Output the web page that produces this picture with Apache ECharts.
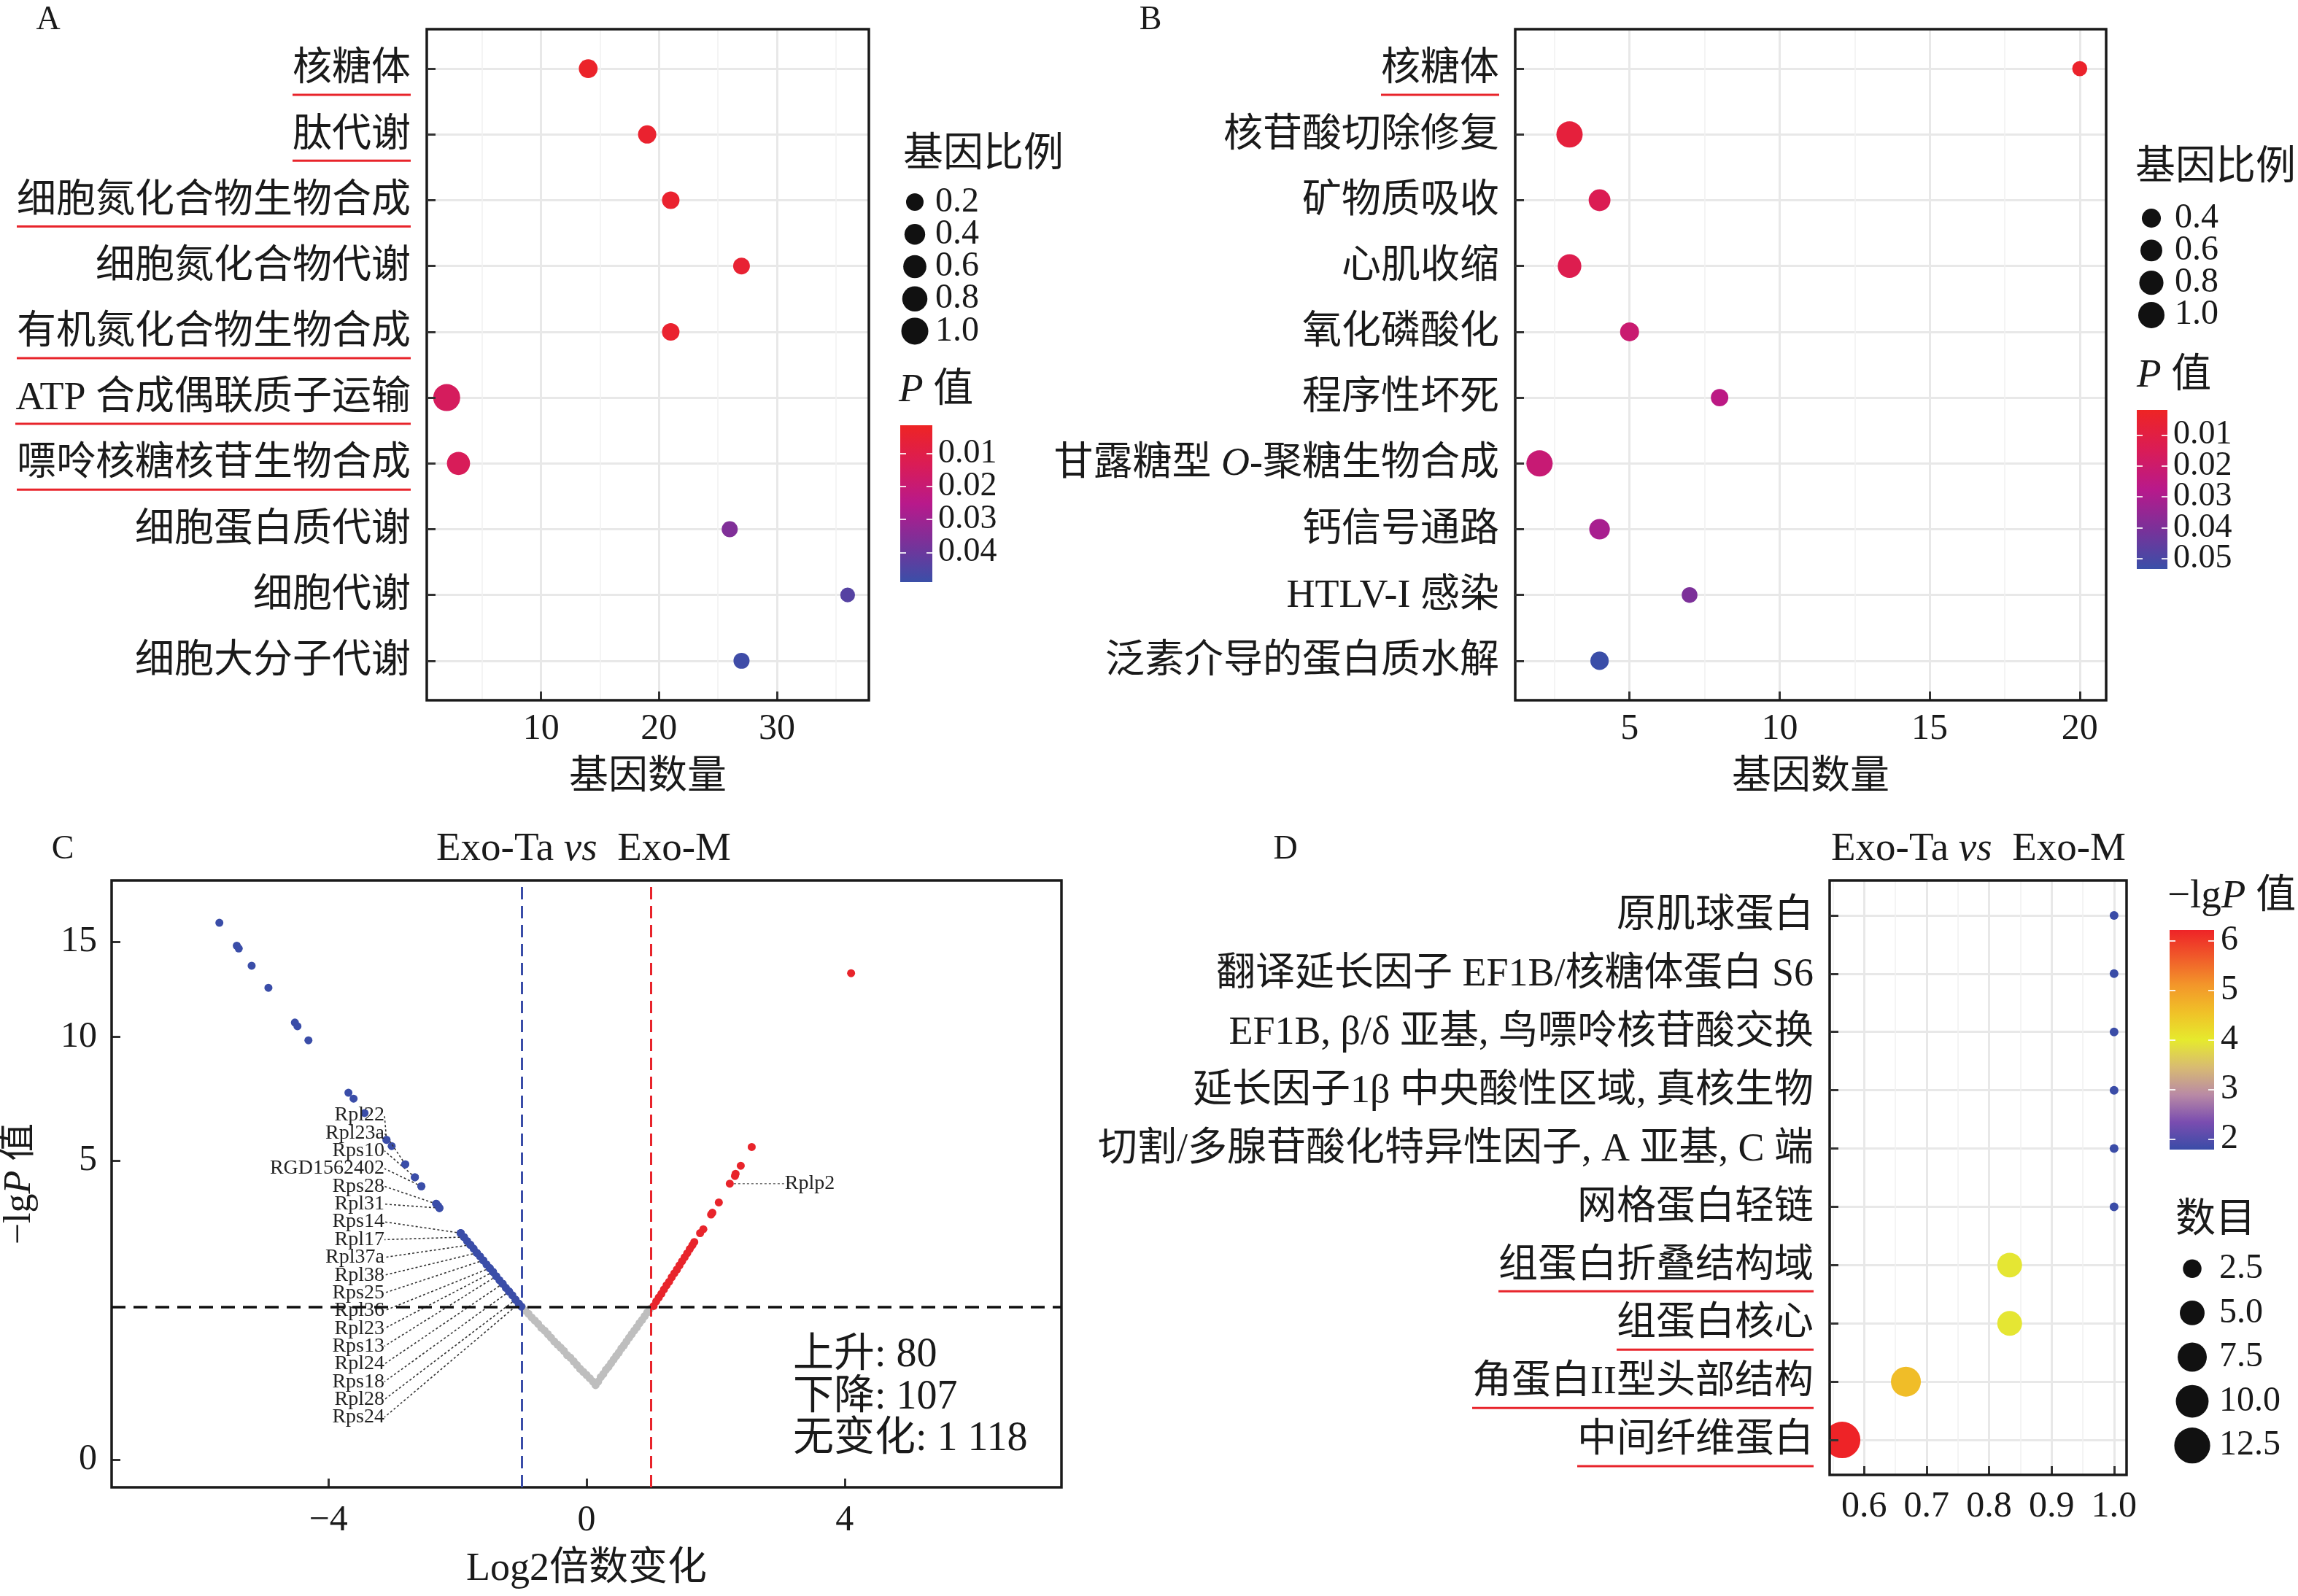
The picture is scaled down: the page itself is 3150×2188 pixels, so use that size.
<!DOCTYPE html>
<html><head><meta charset="utf-8">
<script src="https://cdn.jsdelivr.net/npm/echarts/dist/echarts.min.js"></script>
<style>html,body{margin:0;padding:0;background:#fff}#c{width:3150px;height:2188px}</style>
</head><body><div id="c"></div>
<script>
// ================= DATA =================
// Panel A (GO enrichment)
const catsA = ['核糖体','肽代谢','细胞氮化合物生物合成','细胞氮化合物代谢','有机氮化合物生物合成','ATP 合成偶联质子运输','嘌呤核糖核苷生物合成','细胞蛋白质代谢','细胞代谢','细胞大分子代谢'];
const countA = [14,19,21,27,21,2,3,26,36,27];
const ratioA = [0.27,0.24,0.2,0.16,0.2,1.0,0.6,0.13,0.08,0.13];
const pA = [0.003,0.004,0.004,0.005,0.004,0.015,0.014,0.036,0.044,0.048];
const underlineA = [1,1,1,0,1,1,1,0,0,0];
const xTicksA = [10,20,30];
const xMinorA = [5,15,25,35];
const sizeBreaksA = [0.2,0.4,0.6,0.8,1.0];
const pBreaksA = [0.01,0.02,0.03,0.04];
const pLimitsA = [0.0015,0.049];

// Panel B (KEGG enrichment)
const catsB = ['核糖体','核苷酸切除修复','矿物质吸收','心肌收缩','氧化磷酸化','程序性坏死','甘露糖型 O-聚糖生物合成','钙信号通路','HTLV-I 感染','泛素介导的蛋白质水解'];
const countB = [20,3,4,3,5,8,2,4,7,4];
const ratioB = [0.19,1.0,0.6,0.75,0.4,0.31,1.0,0.51,0.22,0.36];
const pB = [0.004,0.008,0.014,0.013,0.021,0.026,0.022,0.031,0.040,0.053];
const underlineB = [1,0,0,0,0,0,0,0,0,0];
const xTicksB = [5,10,15,20];
const xMinorB = [2.5,7.5,12.5,17.5];
const sizeBreaksB = [0.4,0.6,0.8,1.0];
const pBreaksB = [0.01,0.02,0.03,0.04,0.05];
const pLimitsB = [0.0019,0.0533];

// Panel C (volcano)
const grayX = [-1.00,-0.95,-0.90,-0.85,-0.80,-0.75,-0.70,-0.65,-0.60,-0.55,-0.50,-0.45,-0.40,-0.35,-0.30,-0.25,-0.20,-0.15,-0.10,-0.05,0.00,0.05,0.10,0.14,0.18,0.22,0.26,0.30,0.34,0.38,0.42,0.46,0.50,0.54,0.58,0.62,0.66,0.70,0.74,0.78,0.82,0.86,0.90,0.94,0.98];
const grayY = [1.30,1.24,1.19,1.13,1.08,1.03,0.97,0.93,0.88,0.83,0.78,0.74,0.70,0.66,0.61,0.58,0.54,0.50,0.46,0.43,0.40,0.37,0.34,0.31,0.34,0.38,0.41,0.45,0.48,0.52,0.56,0.60,0.64,0.69,0.73,0.78,0.83,0.88,0.93,0.98,1.04,1.09,1.15,1.21,1.27];
const downX = [-5.69,-5.42,-5.39,-5.19,-4.93,-4.52,-4.48,-4.31,-3.69,-3.61,-3.44,-3.10,-3.02,-2.81,-2.66,-2.56,-2.33,-2.30,-2.28,-1.95,-1.90,-1.85,-1.80,-1.75,-1.70,-1.65,-1.60,-1.55,-1.50,-1.45,-1.40,-1.35,-1.30,-1.25,-1.20,-1.15,-1.10,-1.05,-1.01];
const downY = [16.13,14.78,14.62,13.65,12.46,10.69,10.51,9.84,7.53,7.29,6.72,5.72,5.50,4.88,4.46,4.18,3.66,3.60,3.54,2.87,2.77,2.67,2.58,2.49,2.39,2.31,2.22,2.13,2.05,1.97,1.88,1.80,1.73,1.65,1.58,1.51,1.43,1.36,1.31];
const upX = [4.10,2.56,2.39,2.31,2.30,2.05,1.95,1.93,1.81,1.76,1.67,1.64,1.60,1.56,1.52,1.48,1.44,1.40,1.36,1.32,1.28,1.24,1.20,1.16,1.12,1.08,1.04];
const upY = [13.24,5.47,4.83,4.57,4.50,3.70,3.41,3.36,2.97,2.87,2.65,2.57,2.48,2.38,2.29,2.20,2.11,2.02,1.94,1.86,1.77,1.70,1.62,1.54,1.47,1.40,1.32];
const geneNames = ['Rpl22','Rpl23a','Rps10','RGD1562402','Rps28','Rpl31','Rps14','Rpl17','Rpl37a','Rpl38','Rps25','Rpl36','Rpl23','Rps13','Rpl24','Rps18','Rpl28','Rps24'];
const geneX = [-3.10,-2.81,-2.66,-2.56,-2.33,-2.28,-1.95,-1.90,-1.80,-1.70,-1.60,-1.50,-1.45,-1.40,-1.30,-1.20,-1.10,-1.05];
const geneY = [5.72,4.88,4.46,4.18,3.66,3.54,2.87,2.77,2.58,2.39,2.22,2.05,1.97,1.88,1.73,1.58,1.43,1.36];
const upGeneNames = ['Rplp2'];
const upGeneX = [2.22];
const upGeneY = [4.26];
const xTicksC = [-4,0,4];
const yTicksC = [0,5,10,15];
const fcCut = 1, pCut = 0.05;
const nUp = 80, nDown = 107, nNone = '1 118';

// Panel D (domain enrichment)
const catsD = ['原肌球蛋白','翻译延长因子 EF1B/核糖体蛋白 S6','EF1B, β/δ 亚基, 鸟嘌呤核苷酸交换','延长因子1β 中央酸性区域, 真核生物','切割/多腺苷酸化特异性因子, A 亚基, C 端','网格蛋白轻链','组蛋白折叠结构域','组蛋白核心','角蛋白II型头部结构','中间纤维蛋白'];
const ratioD = [1,1,1,1,1,1,0.833,0.833,0.667,0.565];
const countD = [1,1,1,1,1,1,5,5,8,13];
const lgpD = [1.79,1.79,1.79,1.79,1.79,1.79,3.95,3.95,4.6,6.21];
const underlineD = [0,0,0,0,0,0,1,1,1,1];
const xTicksD = [0.6,0.7,0.8,0.9,1.0];
const xMinorD = [0.55,0.65,0.75,0.85,0.95];
const sizeBreaksD = [2.5,5.0,7.5,10.0,12.5];
const lgpBreaksD = [2,3,4,5,6];
const lgpLimitsD = [1.79,6.21];

// ================= STYLE =================
const FONT = "'Liberation Serif','Noto Sans CJK SC',serif";
const TXT = '#1a1a1a';
const RED = '#E8242B', BLUE = '#3A4DA8', GRAY = '#BEBEBE';
const GMAJ = '#E8E8E8', GMIN = '#F2F2F2';
const PAL_AB = ['#EE2424','#DA1C56','#B8198B','#7A3199','#3A4FA8'];
const PAL_D = ['#3A4CA7','#7A4DB0','#B98AA5','#D8BB72','#E6EA2D','#F0C128','#F3962A','#F05B2A','#EE2327'];
const sizeA = r => 13.5 + 23.5 * Math.sqrt(r);
const sizeB = r => 8.8 + 27.2 * Math.sqrt(r);
const sizeD = c => 12 + 38 * Math.sqrt(Math.max(0, (c - 1) / 12));

const mctx = document.createElement('canvas').getContext('2d');
function textW(s, fs) { mctx.font = fs + 'px ' + FONT; return mctx.measureText(s).width; }
const evens = a => a.filter((_, i) => i % 2 === 0);
const odds = a => a.filter((_, i) => i % 2 === 1);

function catLabel(cats, ul, fs) {
  const rich = {
    s: {fontSize: 8, lineHeight: 14},
    t: {fontSize: fs, lineHeight: 58, fontFamily: FONT, color: TXT},
    ti: {fontSize: fs, lineHeight: 58, fontFamily: FONT, color: TXT, fontStyle: 'italic'}
  };
  cats.forEach((c, i) => {
    rich['u' + i] = {fontSize: 4, width: Math.round(textW(c, fs)), height: 3, lineHeight: 10,
      backgroundColor: ul[i] ? RED : 'transparent'};
  });
  const formatter = v => {
    const i = Math.round(v);
    if (i < 0 || i >= cats.length) return '';
    return '{s| }\n{t|' + cats[i].replace(' O-', ' }{ti|O}{t|-') + '}\n{u' + i + '| }';
  };
  return {rich, formatter};
}

function catYAxis(gi, cats, ul) {
  const lab = catLabel(cats, ul, 54);
  const idx = cats.map((_, i) => i);
  return {
    type: 'value', gridIndex: gi, min: -0.6, max: cats.length - 0.4, inverse: true,
    axisLine: {show: false, onZero: false}, z: 4,
    axisTick: {show: true, inside: true, length: 12, customValues: idx, lineStyle: {color: '#333', width: 3}},
    axisLabel: {customValues: idx, formatter: lab.formatter, rich: lab.rich, margin: 22, showMinLabel: true, showMaxLabel: true},
    splitLine: {show: false}
  };
}
function catGridY(gi, cats) {
  const idx = cats.map((_, i) => i);
  return {
    type: 'value', gridIndex: gi, min: -0.6, max: cats.length - 0.4, inverse: true, z: 0,
    axisLine: {show: false, onZero: false}, axisLabel: {show: false},
    axisTick: {show: false, customValues: idx},
    splitLine: {show: true, lineStyle: {color: GMAJ, width: 3}}
  };
}
function valXAxis(gi, min, max, ticks, fmt, margin, name, nameGap, split) {
  return {
    type: 'value', gridIndex: gi, min, max, position: 'bottom',
    axisLine: {show: false, onZero: false},
    axisTick: {show: true, inside: true, length: 12, customValues: ticks, lineStyle: {color: '#333', width: 3}},
    axisLabel: {customValues: ticks, formatter: fmt, fontSize: 50, margin, color: TXT, fontFamily: FONT, showMinLabel: true, showMaxLabel: true},
    splitLine: {show: split, lineStyle: {color: GMAJ, width: 3}},
    name, nameLocation: 'middle', nameGap,
    nameTextStyle: {fontSize: 54, color: TXT, fontFamily: FONT}
  };
}
function minorXAxis(gi, min, max, ticks) {
  return {
    type: 'value', gridIndex: gi, min, max, position: 'bottom',
    axisLine: {show: false, onZero: false}, axisLabel: {show: false},
    axisTick: {show: false, customValues: ticks},
    splitLine: {show: true, lineStyle: {color: GMIN, width: 1.6}}
  };
}
function hiddenX(gi) { return {type: 'value', gridIndex: gi, min: -0.5, max: 0.5, show: false}; }
function legendY(gi, breaks, margin, fmt) {
  return {
    type: 'category', gridIndex: gi, inverse: true, position: 'right',
    data: breaks.map(fmt),
    axisLine: {show: false, onZero: false}, axisTick: {show: false}, splitLine: {show: false},
    axisLabel: {interval: 0, fontSize: 48, lineHeight: 40, margin, color: TXT, fontFamily: FONT}
  };
}
// colorbar axis: ticks (white, inside) on one side; labels drawn only when showLabels
function cbarY(gi, lims, tickVals, labelVals, inverse, pos, fmt, fs, margin, showTicks) {
  return {
    type: 'value', gridIndex: gi, min: lims[0], max: lims[1], inverse, position: pos, z: 10,
    axisLine: {show: false, onZero: false}, splitLine: {show: false},
    axisTick: {show: showTicks, inside: true, length: 8, customValues: tickVals, lineStyle: {color: 'rgba(255,255,255,0.85)', width: 2}},
    axisLabel: {show: !!labelVals, customValues: labelVals || tickVals, formatter: fmt, fontSize: fs, margin, color: TXT, fontFamily: FONT,
      showMinLabel: true, showMaxLabel: true}
  };
}
function cbarSeries(xi, yi, lims, pal, topIsMin) {
  const cols = topIsMin ? pal : pal.slice().reverse();
  const stops = cols.map((c, k) => ({offset: k / (cols.length - 1), color: c}));
  return {
    type: 'custom', xAxisIndex: xi, yAxisIndex: yi, silent: true, clip: false,
    data: [[lims[0], lims[1]]],
    renderItem: (params, api) => {
      const p0 = api.coord([-0.5, api.value(0)]);
      const p1 = api.coord([0.5, api.value(1)]);
      return {type: 'rect', shape: {x: Math.min(p0[0], p1[0]), y: Math.min(p0[1], p1[1]),
        width: Math.abs(p1[0] - p0[0]), height: Math.abs(p1[1] - p0[1])},
        style: {fill: new echarts.graphic.LinearGradient(0, 0, 0, 1, stops)}};
    }
  };
}
function legendSeries(xi, yi, breaks, sizeFn) {
  return {type: 'scatter', xAxisIndex: xi, yAxisIndex: yi, silent: true,
    data: breaks.map((b, i) => [0, i, b]), symbolSize: v => sizeFn(v[2]),
    itemStyle: {color: '#111', opacity: 1}};
}
function gtext(x, y, text, fs, align, rich, extra) {
  return Object.assign({type: 'text', x, y, silent: true, style: {
    text, fontSize: fs, fontFamily: FONT, fill: TXT,
    align: align || 'left', textAlign: align || 'left',
    verticalAlign: 'middle', textVerticalAlign: 'middle', rich: rich || {}
  }}, extra || {});
}
const richTI = fs => ({t: {fontSize: fs, fontFamily: FONT, fill: TXT, color: TXT},
  i: {fontSize: fs, fontFamily: FONT, fontStyle: 'italic', fill: TXT, color: TXT}});

const gridBox = {show: true, borderColor: '#1a1a1a', borderWidth: 3.5, backgroundColor: 'transparent', z: 3};
const sq = v => Math.sqrt(v);
const f2 = v => v.toFixed(2);
const f0 = v => String(v);

const option = {
  animation: false,
  backgroundColor: '#fff',
  textStyle: {fontFamily: FONT, color: TXT},
  grid: [
    Object.assign({left: 585, top: 40, width: 606, height: 920}, gridBox),   //0 A
    {left: 1234, top: 255, width: 40, height: 221},                         //1 A size
    {left: 1234, top: 583, width: 44, height: 215},                         //2 A cbar
    Object.assign({left: 2077, top: 40, width: 810, height: 920}, gridBox),  //3 B
    {left: 2929, top: 277, width: 40, height: 177},                         //4 B size
    {left: 2929, top: 562, width: 42, height: 218},                         //5 B cbar
    Object.assign({left: 147, top: 1207, width: 1308, height: 832}, gridBox),//6 C
    Object.assign({left: 2508, top: 1207, width: 407, height: 815}, gridBox),//7 D
    {left: 2974, top: 1275, width: 61, height: 301},                        //8 D cbar
    {left: 2985, top: 1709, width: 40, height: 303}                         //9 D size
  ],
  xAxis: [
    valXAxis(0, 0.31, 37.8, xTicksA, f0, 15, '基因数量', 80, true),              //0
    minorXAxis(0, 0.31, 37.8, xMinorA),                                           //1
    {type: 'value', gridIndex: 1, min: -1, max: 1, show: false},                  //2
    hiddenX(2),                                                                   //3
    valXAxis(3, 1.19, 20.88, xTicksB, f0, 15, '基因数量', 80, true),             //4
    minorXAxis(3, 1.19, 20.88, xMinorB),                                          //5
    {type: 'value', gridIndex: 4, min: -1, max: 1, show: false},                  //6
    hiddenX(5),                                                                   //7
    valXAxis(6, -7.36, 7.36, xTicksC, v => (v < 0 ? '\u2212' + Math.abs(v) : String(v)), 21, 'Log2倍数变化', 86, false), //8
    valXAxis(7, 0.545, 1.02, xTicksD, v => v.toFixed(1), 19, '', 0, true),        //9
    minorXAxis(7, 0.545, 1.02, xMinorD),                                          //10
    hiddenX(8),                                                                   //11
    {type: 'value', gridIndex: 9, min: -1, max: 1, show: false}                   //12
  ],
  yAxis: [
    catYAxis(0, catsA, underlineA),                                               //0
    legendY(1, sizeBreaksA, 8, b => b.toFixed(1)),                                //1
    cbarY(2, pLimitsA, pBreaksA, evens(pBreaksA), true, 'right', f2, 46, 8, true),//2
    cbarY(2, pLimitsA, pBreaksA, null, true, 'left', f2, 46, 8, true),            //3
    catYAxis(3, catsB, underlineB),                                               //4
    legendY(4, sizeBreaksB, 12, b => b.toFixed(1)),                               //5
    cbarY(5, pLimitsB, pBreaksB, evens(pBreaksB), true, 'right', f2, 46, 8, true),//6
    cbarY(5, pLimitsB, pBreaksB, null, true, 'left', f2, 46, 8, true),            //7
    {                                                                             //8 C
      type: 'value', gridIndex: 6, min: -0.208, max: 4.333,
      axisLine: {show: false, onZero: false}, splitLine: {show: false},
      axisTick: {show: true, inside: true, length: 12, customValues: yTicksC.map(sq), lineStyle: {color: '#333', width: 3}},
      axisLabel: {customValues: yTicksC.map(sq), formatter: v => String(Math.round(v * v)), fontSize: 50, margin: 20, color: TXT, fontFamily: FONT, showMinLabel: true, showMaxLabel: true},
      name: '{t|\u2212lg}{i|P}{t| 值}', nameLocation: 'middle', nameRotate: 90, nameGap: 100,
      nameTextStyle: {rich: richTI(52)}
    },
    catYAxis(7, catsD, underlineD),                                               //9
    cbarY(8, lgpLimitsD, lgpBreaksD, lgpBreaksD, false, 'right', f0, 48, 9, true),//10
    cbarY(8, lgpLimitsD, lgpBreaksD, null, false, 'left', f0, 48, 9, true),       //11
    legendY(9, sizeBreaksD, 17, b => b.toFixed(1)),                               //12
    catGridY(0, catsA),                                                           //13
    catGridY(3, catsB),                                                           //14
    catGridY(7, catsD),                                                           //15
    cbarY(2, pLimitsA, odds(pBreaksA), odds(pBreaksA), true, 'right', f2, 46, 8, false), //16 A odd labels
    cbarY(5, pLimitsB, odds(pBreaksB), odds(pBreaksB), true, 'right', f2, 46, 8, false)  //17 B odd labels
  ],
  visualMap: [
    {type: 'continuous', show: false, seriesIndex: 0, dimension: 2, min: pLimitsA[0], max: pLimitsA[1], inRange: {color: PAL_AB}},
    {type: 'continuous', show: false, seriesIndex: 3, dimension: 2, min: pLimitsB[0], max: pLimitsB[1], inRange: {color: PAL_AB}},
    {type: 'continuous', show: false, seriesIndex: 11, dimension: 2, min: lgpLimitsD[0], max: lgpLimitsD[1], inRange: {color: PAL_D}}
  ],
  series: [
    // 0 A points
    {type: 'scatter', xAxisIndex: 0, yAxisIndex: 0, data: catsA.map((c, i) => [countA[i], i, pA[i], ratioA[i]]),
      symbolSize: v => sizeA(v[3]), itemStyle: {opacity: 1}},
    // 1 A size legend
    legendSeries(2, 1, sizeBreaksA, sizeA),
    // 2 A colorbar
    cbarSeries(3, 2, pLimitsA, PAL_AB, true),
    // 3 B points
    {type: 'scatter', xAxisIndex: 4, yAxisIndex: 4, data: catsB.map((c, i) => [countB[i], i, pB[i], ratioB[i]]),
      symbolSize: v => sizeB(v[3]), itemStyle: {opacity: 1}},
    // 4 B size legend
    legendSeries(6, 5, sizeBreaksB, sizeB),
    // 5 B colorbar
    cbarSeries(7, 6, pLimitsB, PAL_AB, true),
    // 6 C gray
    {type: 'scatter', xAxisIndex: 8, yAxisIndex: 8, symbolSize: 11, itemStyle: {color: GRAY, opacity: 1},
      data: grayX.map((x, i) => [x, sq(grayY[i])]),
      markLine: {silent: true, symbol: 'none', label: {show: false}, animation: false,
        data: [
          {xAxis: -fcCut, lineStyle: {color: BLUE, type: [17, 9], width: 3}},
          {xAxis: fcCut, lineStyle: {color: RED, type: [17, 9], width: 3}},
          {yAxis: sq(-Math.log10(pCut)), lineStyle: {color: '#111', type: [19, 11], width: 3.5}}
        ]}},
    // 7 C down
    {type: 'scatter', xAxisIndex: 8, yAxisIndex: 8, symbolSize: 11, itemStyle: {color: BLUE, opacity: 1},
      data: downX.map((x, i) => [x, sq(downY[i])])},
    // 8 C up
    {type: 'scatter', xAxisIndex: 8, yAxisIndex: 8, symbolSize: 11, itemStyle: {color: RED, opacity: 1},
      data: upX.map((x, i) => [x, sq(upY[i])])},
    // 9 C labelled down genes
    {type: 'scatter', xAxisIndex: 8, yAxisIndex: 8, symbolSize: 11, itemStyle: {color: BLUE, opacity: 1}, z: 4,
      data: geneNames.map((n, i) => ({name: n, value: [geneX[i], sq(geneY[i])]})),
      label: {show: true, formatter: '{b}', fontSize: 28, color: '#222', fontFamily: FONT, position: 'left'},
      labelLayout: p => ({x: 527, y: 1529 + p.dataIndex * 24.35, align: 'right', verticalAlign: 'middle'}),
      labelLine: {show: true, showAbove: false, lineStyle: {color: '#333', width: 1.6, type: [3, 3]}}},
    // 10 C labelled up gene
    {type: 'scatter', xAxisIndex: 8, yAxisIndex: 8, symbolSize: 11, itemStyle: {color: RED, opacity: 1}, z: 4,
      data: upGeneNames.map((n, i) => ({name: n, value: [upGeneX[i], sq(upGeneY[i])]})),
      label: {show: true, formatter: '{b}', fontSize: 28, color: '#222', fontFamily: FONT, position: 'right', distance: 4},
      labelLayout: () => ({dx: 66}),
      labelLine: {show: true, lineStyle: {color: '#777', width: 1.6, type: [3, 3]}}},
    // 11 D points
    {type: 'custom', xAxisIndex: 9, yAxisIndex: 9, clip: true, encode: {x: 0, y: 1},
      data: catsD.map((c, i) => [ratioD[i], i, lgpD[i], countD[i]]),
      renderItem: (params, api) => {
        const p = api.coord([api.value(0), api.value(1)]);
        return {type: 'circle', shape: {cx: p[0], cy: p[1], r: sizeD(api.value(3)) / 2},
          style: {fill: api.visual('color')}};
      }},
    // 12 D size legend
    {type: 'scatter', xAxisIndex: 12, yAxisIndex: 12, silent: true,
      data: sizeBreaksD.map((b, i) => [0, i, b]), symbolSize: v => sizeD(v[2]),
      itemStyle: {color: '#111', opacity: 1}},
    // 13 D colorbar
    cbarSeries(11, 10, lgpLimitsD, PAL_D, false)
  ],
  graphic: [
    gtext(66, 28, 'A', 46, 'center'),
    gtext(1577, 28, 'B', 46, 'center'),
    gtext(86, 1165, 'C', 46, 'center'),
    gtext(1762, 1165, 'D', 46, 'center'),
    gtext(1238, 213, '基因比例', 55, 'left'),
    gtext(1232, 536, '{i|P}{t| 值}', 55, 'left', richTI(55)),
    gtext(2927, 231, '基因比例', 55, 'left'),
    gtext(2929, 516, '{i|P}{t| 值}', 55, 'left', richTI(55)),
    gtext(2971, 1230, '{t|\u2212lg}{i|P}{t| 值}', 55, 'left', richTI(55)),
    gtext(2982, 1674, '数目', 55, 'left'),
    gtext(800, 1165, '{t|Exo-Ta }{i|vs}{t|  Exo-M}', 55, 'center', richTI(55)),
    gtext(2712, 1165, '{t|Exo-Ta }{i|vs}{t|  Exo-M}', 55, 'center', richTI(55)),
    gtext(1087, 1858, '上升: ' + nUp, 56, 'left'),
    gtext(1087, 1916, '下降: ' + nDown, 56, 'left'),
    gtext(1087, 1973, '无变化: ' + nNone, 56, 'left')
  ]
};

const chart = echarts.init(document.getElementById('c'), null, {renderer: 'canvas'});
chart.setOption(option);
</script></body></html>
